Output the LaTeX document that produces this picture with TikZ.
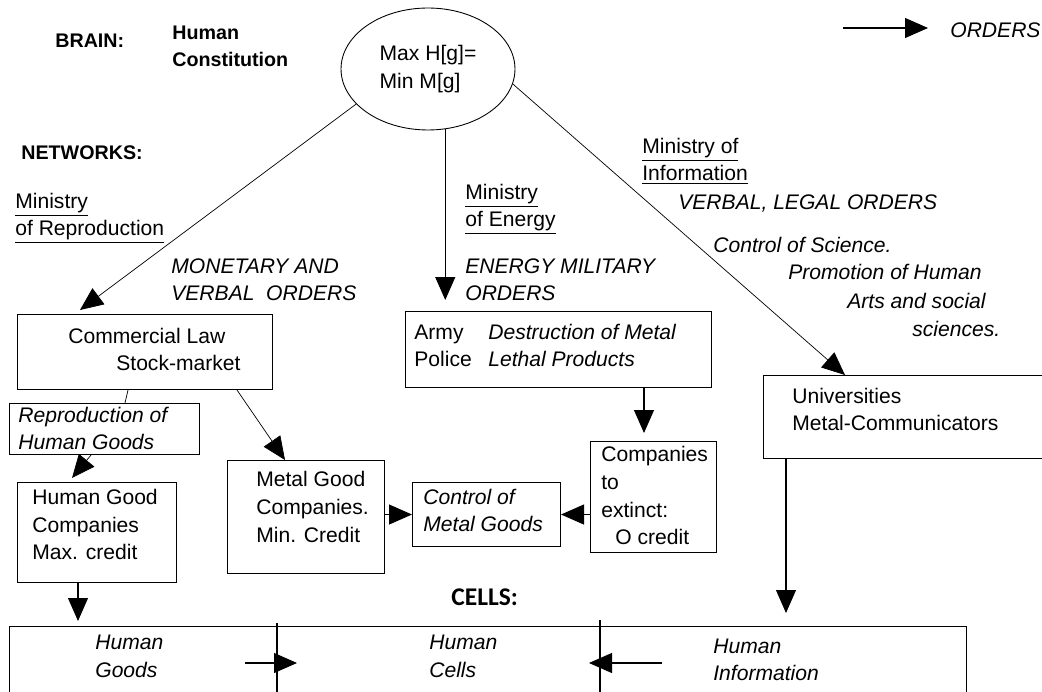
\documentclass[tikz,border=0pt]{standalone}
\usepackage{fontspec}
\setmainfont{Liberation Sans}
\newfontfamily\cellsfont{Carlito}
\usepackage{tikz}
\usetikzlibrary{arrows.meta}
\usetikzlibrary{shapes.geometric, positioning, calc}

\begin{document}
\begin{tikzpicture}[x=0.02cm, y=-0.02cm,
    >={Triangle[length=0.46cm, width=0.4cm]},
    box/.style={draw, line width=0.6pt, inner sep=0pt, anchor=north west},
    txt/.style={anchor=base west, inner sep=0pt, align=left, font=\fontsize{12}{15.9}\selectfont},
    itxt/.style={txt, font=\fontsize{12}{15.9}\selectfont\itshape},
    head/.style={txt, font=\fontsize{11.2}{15.9}\selectfont\bfseries},
    link/.style={->, line width=0.6pt},
    slant/.style={->, line width=0.4pt}]
      \useasboundingbox (0, 0) rectangle (1042, 692);
      \clip (0, 0) rectangle (1042, 692);

      % brain
      \node[head] (brainlbl) at (55, 48) {BRAIN:};
      \node[head] (constit) at (172, 67) {Human\\Constitution};
      \node[draw, ellipse, line width=0.5pt, inner sep=0pt, minimum width=3.48cm, minimum height=2.44cm,
            align=left, font=\fontsize{12}{15.9}\selectfont] (brain) at (428, 69) {Max H[g]=\\Min M[g]};

      % legend
      \coordinate (legA) at (843, 28);
      \coordinate (legB) at (928, 28);
      \draw[link] (legA) -- (legB);
      \node[itxt] (legend) at (950, 38) {ORDERS};

      % networks
      \node[head] (netlbl) at (21, 160) {NETWORKS:};
      \node[txt] (minrep) at (15, 236) {\underline{Ministry}\\\underline{of Reproduction}};
      \node[itxt] (monord) at (171, 301) {MONETARY AND\\VERBAL\ \ ORDERS};
      \node[txt] (minen) at (465, 227) {\underline{Ministry}\\\underline{of Energy}};
      \node[itxt] (enord) at (465, 301) {ENERGY MILITARY\\ORDERS};
      \node[txt] (mininf) at (642, 181) {\underline{Ministry of}\\\underline{Information}};
      \node[itxt] (verbord) at (678, 210) {VERBAL, LEGAL ORDERS};
      \node[itxt] (ctrlsci) at (713, 253) {Control of Science.};
      \node[itxt] (promo) at (788, 280) {Promotion of Human};
      \node[itxt] (arts) at (847, 309) {Arts and social};
      \node[itxt] (scien) at (912, 337) {sciences.};

      % boxes
      \node[box, minimum width=5.10cm, minimum height=1.50cm] (comm) at (17, 314) {};
      \node[txt] (commtxt) at (68, 371) {Commercial Law\\\hspace*{0.96cm}Stock-market};
      \node[box, minimum width=6.12cm, minimum height=1.52cm] (army) at (405, 311) {};
      \node[txt] (armytxt) at (414, 367) {Army\\Police};
      \node[itxt] (armyjob) at (488, 367) {Destruction of Metal\\Lethal Products};
      \node[box, minimum width=3.80cm, minimum height=1.02cm] (repro) at (9, 403) {};
      \node[itxt] (reprotxt) at (18, 450) {Reproduction of\\Human Goods};
      \node[box, minimum width=3.18cm, minimum height=2.00cm] (hg) at (17, 482) {};
      \node[txt] (hgtxt) at (32, 560) {Human Good\\Companies\\Max. credit};
      \node[box, minimum width=3.14cm, minimum height=2.26cm] (metal) at (227, 460) {};
      \node[txt] (metaltxt) at (256, 542) {Metal Good\\Companies.\\Min. Credit};
      \node[box, minimum width=2.96cm, minimum height=1.28cm] (ctrl) at (412, 482) {};
      \node[itxt] (ctrltxt) at (423, 532) {Control of\\Metal Goods};
      \node[box, minimum width=2.52cm, minimum height=2.22cm] (comp) at (590, 441) {};
      \node[txt] (comptxt) at (601, 545) {Companies\\to\\extinct:\\\hspace*{0.28cm}O credit};
      \node[box, minimum width=5.70cm, minimum height=1.66cm] (univ) at (763, 375) {};
      \node[txt] (univtxt) at (792, 431) {Universities\\Metal-Communicators};

      % cells
      \node[txt, font=\fontsize{14.5}{16}\selectfont\cellsfont\bfseries] (cellslbl) at (451, 605) {CELLS:};
      \node[box, minimum width=19.14cm, minimum height=1.88cm] (cells) at (9, 626) {};
      \node[itxt] (goods) at (95, 677) {Human\\Goods};
      \node[itxt] (hcells) at (429, 677) {Human\\Cells};
      \node[itxt] (hinfo) at (713, 681) {Human\\Information};

      % orders
      \draw[slant] (brain.206) -- ($(comm.north west)+(63, -4)$);
      \draw[link, shorten >=0.22cm] (brain.-74) -- (brain.-74 |- army.north);
      \draw[slant] (brain.-10) -- ($(univ.north west)+(82, 0)$);

      \draw[line width=0.4pt] ($(comm.south west)+(111, 0)$) -- ($(repro.north west)+(116, 0)$);
      \draw[slant] ($(repro.south west)+(82, 0)$) -- ($(hg.north west)+(55, -4)$);
      \draw[slant] ($(comm.south west)+(220, 0)$) -- ($(metal.north west)+(58, 0)$);
      \draw[link] (metal.east |- ctrl.west) -- (ctrl.west);
      \draw[link] (comp.west |- ctrl.east) -- (ctrl.east);

      \coordinate (compin) at ($(comp.north west)+(54, 0)$);
      \draw[link, shorten >=0.16cm] (compin |- army.south) -- (compin);
      \coordinate (hgout) at ($(hg.south west)+(61, 0)$);
      \draw[link, shorten >=0.1cm] (hgout) -- (hgout |- cells.north);
      \coordinate (univout) at ($(univ.south west)+(23, 0)$);
      \draw[link, shorten >=0.26cm] (univout) -- (univout |- cells.north);

      % cell walls
      \coordinate (divA) at ($(cells.north west)+(268, -3)$);
      \coordinate (divB) at ($(cells.north west)+(591, -6)$);
      \draw[line width=0.6pt] (divA) -- (divA |- cells.south);
      \draw[line width=0.6pt] (divB) -- (divB |- cells.south);
      \draw[link] ($(divA)+(-32, 40)$) -- ($(divA)+(20, 40)$);
      \draw[link] ($(divB)+(62, 43)$) -- ($(divB)+(-11, 43)$);

    \end{tikzpicture}
\end{document}
